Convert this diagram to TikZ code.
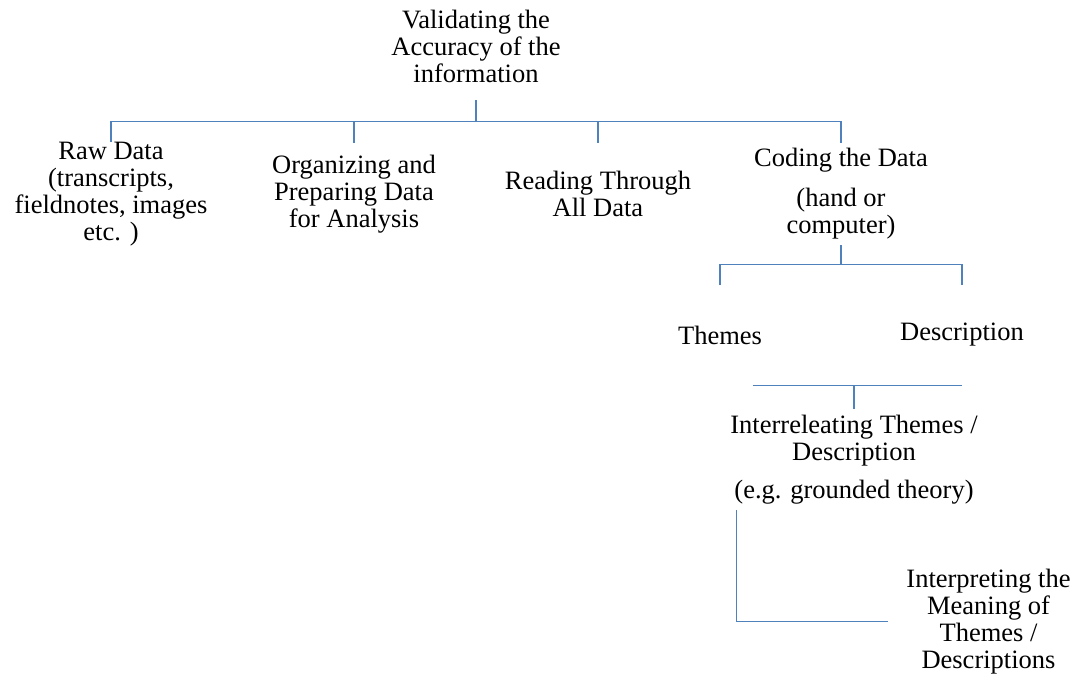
\documentclass[tikz,border=0pt]{standalone}
\usepackage{fontspec}
\setmainfont{Liberation Serif}
\definecolor{linkblue}{RGB}{79,129,189}
\begin{document}
\begin{tikzpicture}[x=1pt, y=-1pt,
  every node/.style={font=\fontsize{26.5}{27}\selectfont, align=center, inner sep=0pt},
  stage/.style={minimum height=102pt},
  leaf/.style={minimum height=100pt},
  link/.style={draw=linkblue, line width=1.2pt}]
\useasboundingbox (0,0) rectangle (1077,677);
\node[inner ysep=17pt] (valid) at (476, 46.3) {Validating the\\Accuracy of the\\information};
\node[stage] (raw)     at (111, 194) {Raw Data\\(transcripts,\\fieldnotes, images\\etc. )};
\node[stage] (organ)   at (354, 194) {Organizing and\\Preparing Data\\for Analysis};
\node[stage] (reading) at (598, 194) {Reading Through\\All Data};
\node[stage] (coding)  at (841, 194) {Coding the Data\\[13pt](hand or\\computer)};
\node[leaf] (themes) at (720, 335) {Themes};
\node[leaf] (descr)  at (962, 335) {Description};
\node[inner ysep=6pt] (interrel) at (854, 459.3) {Interreleating Themes /\\Description\\[11pt](e.g. grounded theory)};
\node[inner xsep=18pt] (interp) at (988.5, 621.3) {Interpreting the\\Meaning of\\Themes /\\Descriptions};
\coordinate (bus)  at (476, 121.5);
\coordinate (fork) at (841, 264.5);
\draw[link] (valid.south) -- (bus);
\foreach \n in {raw, organ, reading, coding}
  \draw[link] (\n.north) |- (bus);
\draw[link] (coding.south) -- (fork);
\foreach \n in {themes, descr}
  \draw[link] (\n.north) |- (fork);
\draw[link] ([xshift=33pt]themes.south) -- (descr.south);
\draw[link] (interrel.north) -- (interrel.north |- descr.south);
\draw[link] ([xshift=6pt]interrel.south west) |- (interp.west);
\end{tikzpicture}
\end{document}
